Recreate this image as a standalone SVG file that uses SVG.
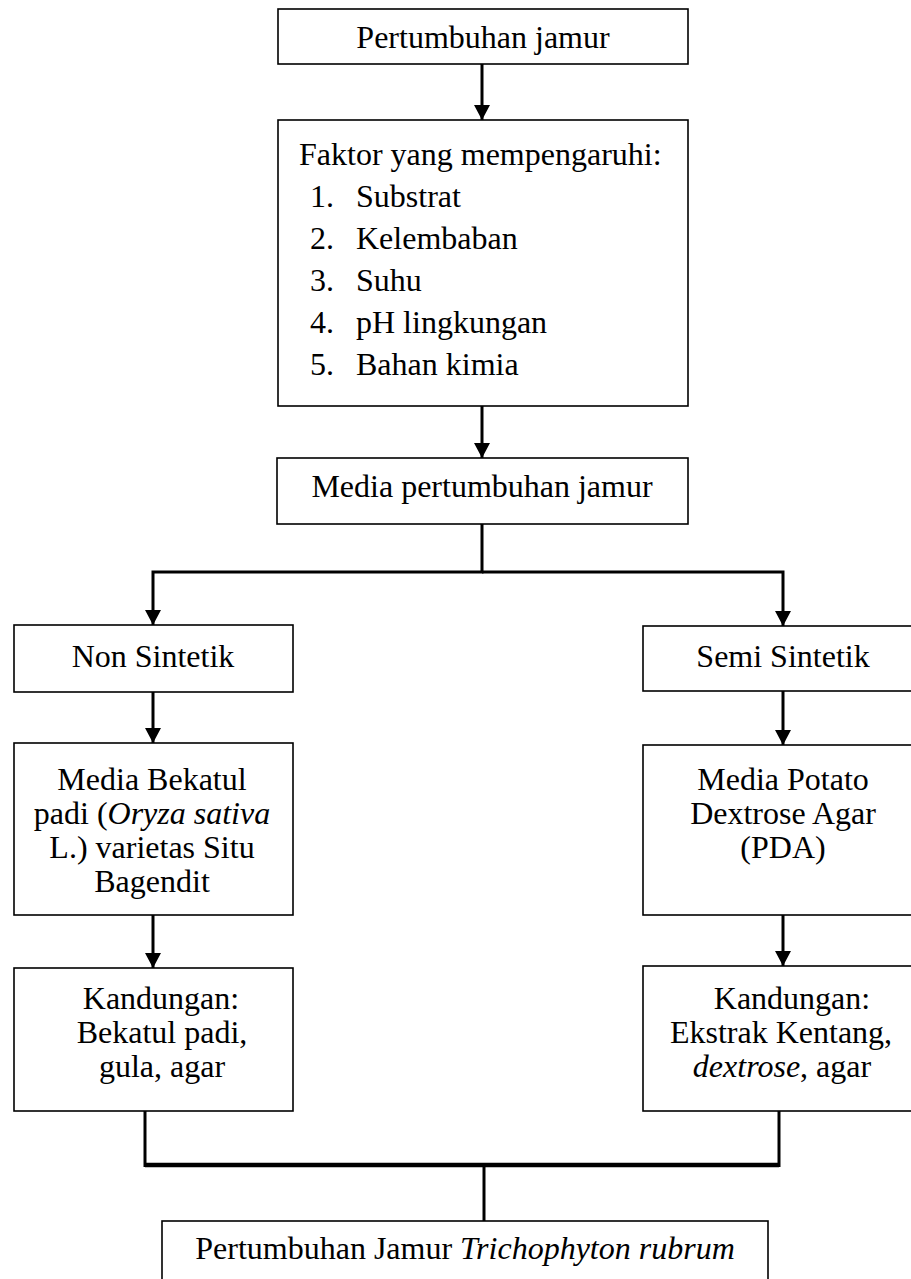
<svg xmlns="http://www.w3.org/2000/svg" width="911" height="1279" viewBox="0 0 911 1279">
<style>
.box{fill:#fff;stroke:#000;stroke-width:1.6}
.t{font-family:"Liberation Serif","Times New Roman",serif;font-size:32px;fill:#000}
.c{text-anchor:middle}
.i{font-style:italic}
.ln{stroke:#000;stroke-width:3;fill:none}
</style>
<defs>
<marker id="ah" markerUnits="userSpaceOnUse" markerWidth="16" markerHeight="16" viewBox="0 0 16 16" refX="15" refY="8" orient="auto">
<path d="M0,0 L15,8 L0,16 Z" fill="#000"/>
</marker>
</defs>
<g id="n1"><rect class="box" x="278" y="9" width="410" height="55"/><text class="t c" x="483" y="48">Pertumbuhan jamur</text></g>
<g id="n2"><rect class="box" x="278" y="120" width="410" height="286"/>
<text class="t" x="299" y="165">Faktor yang mempengaruhi:</text>
<text class="t" x="310" y="207">1.</text><text class="t" x="356" y="207">Substrat</text>
<text class="t" x="310" y="249">2.</text><text class="t" x="356" y="249">Kelembaban</text>
<text class="t" x="310" y="291">3.</text><text class="t" x="356" y="291">Suhu</text>
<text class="t" x="310" y="333">4.</text><text class="t" x="356" y="333">pH lingkungan</text>
<text class="t" x="310" y="375">5.</text><text class="t" x="356" y="375">Bahan kimia</text>
</g>
<g id="n3"><rect class="box" x="277" y="458" width="411" height="66"/><text class="t c" x="482" y="497">Media pertumbuhan jamur</text></g>
<g id="n4"><rect class="box" x="14" y="625" width="279" height="67"/><text class="t c" x="153" y="667">Non Sintetik</text></g>
<g id="n5"><rect class="box" x="643" y="626" width="280" height="65"/><text class="t c" x="783" y="667">Semi Sintetik</text></g>
<g id="n6"><rect class="box" x="14" y="743" width="279" height="172"/>
<text class="t c" x="152" y="790">Media Bekatul</text>
<text class="t c" x="152" y="824">padi (<tspan class="i">Oryza sativa</tspan></text>
<text class="t c" x="152" y="858">L.) varietas Situ</text>
<text class="t c" x="152" y="892">Bagendit</text>
</g>
<g id="n7"><rect class="box" x="643" y="745" width="280" height="170"/>
<text class="t c" x="783" y="790">Media Potato</text>
<text class="t c" x="783" y="824">Dextrose Agar</text>
<text class="t c" x="783" y="858">(PDA)</text>
</g>
<g id="n8"><rect class="box" x="14" y="968" width="279" height="143"/>
<text class="t c" x="161" y="1009">Kandungan:</text>
<text class="t c" x="162" y="1043">Bekatul padi,</text>
<text class="t c" x="162" y="1077">gula, agar</text>
</g>
<g id="n9"><rect class="box" x="643" y="966" width="280" height="145"/>
<text class="t c" x="792" y="1009">Kandungan:</text>
<text class="t c" x="781" y="1043">Ekstrak Kentang,</text>
<text class="t c" x="782" y="1077"><tspan class="i">dextrose</tspan>, agar</text>
</g>
<g id="n10"><rect class="box" x="162" y="1221" width="606" height="80"/>
<text class="t c" x="465" y="1259">Pertumbuhan Jamur <tspan class="i">Trichophyton rubrum</tspan></text>
</g>
<g id="connectors">
<line class="ln" x1="482" y1="64" x2="482" y2="120" marker-end="url(#ah)"/>
<line class="ln" x1="482" y1="406" x2="482" y2="458" marker-end="url(#ah)"/>
<polyline class="ln" points="482,524 482,572 153,572 153,625" marker-end="url(#ah)"/>
<polyline class="ln" points="482,572 783,572 783,626" marker-end="url(#ah)"/>
<line class="ln" x1="153" y1="692" x2="153" y2="743" marker-end="url(#ah)"/>
<line class="ln" x1="783" y1="691" x2="783" y2="745" marker-end="url(#ah)"/>
<line class="ln" x1="153" y1="915" x2="153" y2="968" marker-end="url(#ah)"/>
<line class="ln" x1="783" y1="915" x2="783" y2="966" marker-end="url(#ah)"/>
<line class="ln" x1="145" y1="1111" x2="145" y2="1167"/>
<line class="ln" x1="779" y1="1111" x2="779" y2="1167"/>
<line x1="145" y1="1165" x2="779" y2="1165" stroke="#000" stroke-width="4.5"/>
<line class="ln" x1="484" y1="1165" x2="484" y2="1221"/>
</g>
</svg>
